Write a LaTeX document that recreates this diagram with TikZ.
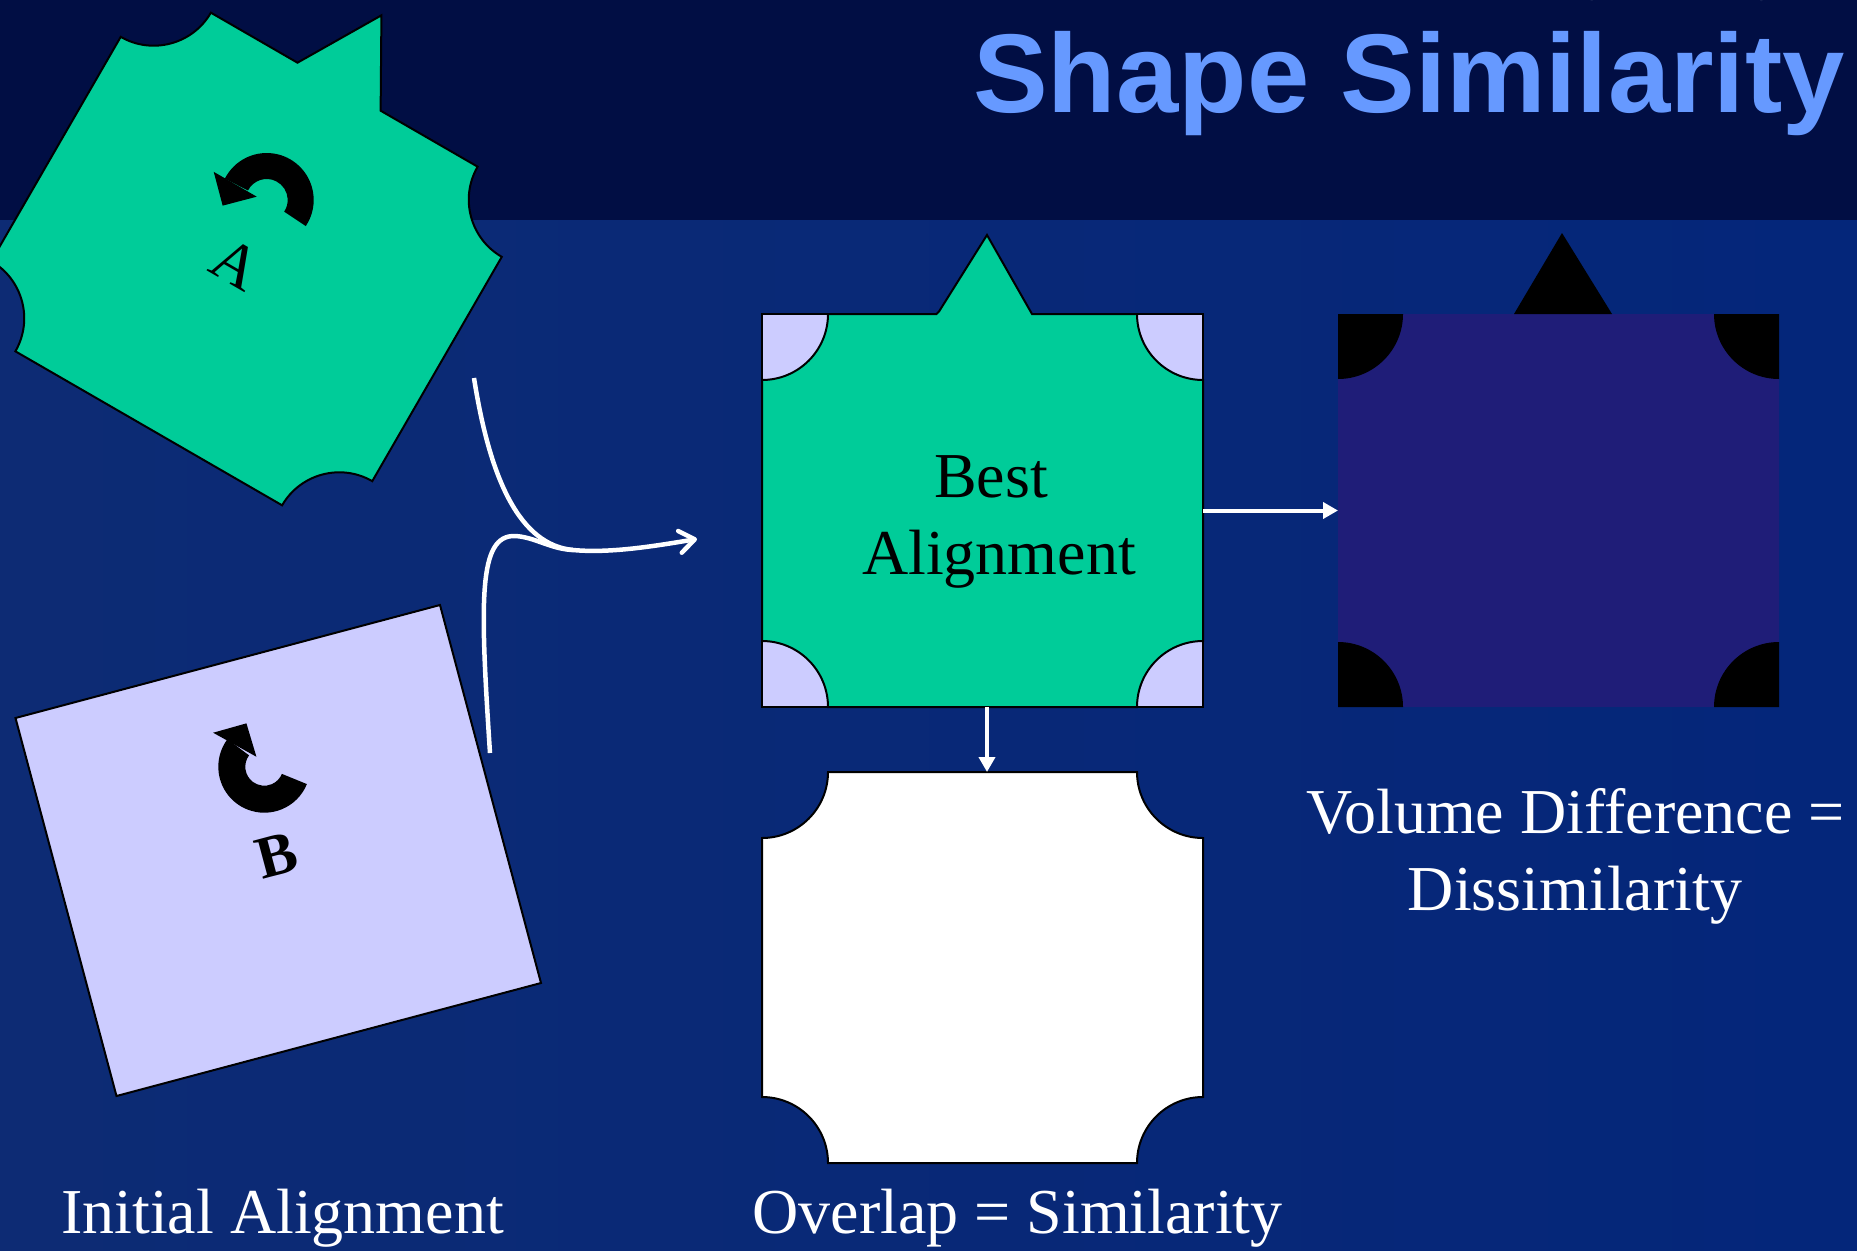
\documentclass[tikz,border=0pt]{standalone}
\usepackage{fontspec}
\setmainfont{Liberation Serif}
\newfontfamily\titlefont{Liberation Sans}
\usetikzlibrary{arrows.meta}
\definecolor{hdr}{HTML}{010E44}
\definecolor{bodyL}{HTML}{0D2B74}
\definecolor{bodyR}{HTML}{04267A}
\definecolor{agreen}{HTML}{00CC99}
\definecolor{blav}{HTML}{CCCCFF}
\definecolor{indig}{HTML}{1F1D78}
\definecolor{ttl}{HTML}{6699FF}
\tikzset{
  outl/.style={draw=black, line width=2pt, line join=miter},
  box/.style={minimum width=441pt, minimum height=393pt, inner sep=0pt, outer sep=0pt},
  serif64/.style={inner sep=0pt, font=\fontsize{64}{72}\selectfont},
  warrow/.style={draw=white, line width=4pt, -{Triangle[length=15pt,width=16pt]}},
  wcurve/.style={draw=white, line width=4.5pt},
  faint/.style={draw=white, draw opacity=0.07, line width=5pt}
}
\begin{document}
\begin{tikzpicture}[x=1pt,y=1pt]
\useasboundingbox (0,0) rectangle (1857,-1250);
\clip (0,0) rectangle (1857,-1250);
% background
\shade[left color=bodyL, right color=bodyR] (0,-220) rectangle (1857,-1250);
\fill[hdr] (0,0) rectangle (1857,-220);
% faint molecule in the header
\draw[faint] (1590,0) -- (1613,40) -- (1740,30) -- (1763,0);
\draw[faint] (1613,40) -- (1607,125);
\draw[faint] (1857,110) -- (1833,137) -- (1782,217) -- (1763,300);
\fill[white, fill opacity=0.05] (1607,125) circle (15) (1833,137) circle (24) (1782,217) circle (18);

% title
\node[anchor=base west, inner sep=0pt, text=ttl,
      font=\titlefont\bfseries\fontsize{112}{120}\selectfont] (title) at (973,-112) {Shape Similarity};

% ---------- initial shape B ----------
\filldraw[blav, outl] (15.5,-718) -- (440,-605) -- (541,-983) -- (116.5,-1096) -- cycle;
\coordinate (cB) at (264.3,-766.7);
\fill[black] ([shift={(-22.2:46)}]cB) arc[start angle=-22.2, end angle=-216.7, radius=46]
   -- ([shift={(-216.7:19)}]cB) arc[start angle=-216.7, end angle=-22.2, radius=19] -- cycle;
\fill[black] ([shift={(146.4:61.4)}]cB) -- ([shift={(112.4:46.9)}]cB) -- ([shift={(128.3:12.7)}]cB) -- cycle;
\node[rotate=15, inner sep=0pt, font=\bfseries\fontsize{60}{66}\selectfont] (labB) at (277,-855) {B};

% ---------- initial shape A ----------
\begin{scope}[shift={(246.5,-259)}, rotate=-30]
\filldraw[agreen, outl] (-154,195.5) -- (-54,195.5) -- (-5,278.5) -- (42,195.5) -- (154,195.5)
   arc[start angle=180, end angle=270, radius=66] -- (220,-129.5)
   arc[start angle=90, end angle=180, radius=66] -- (-154,-195.5)
   arc[start angle=0, end angle=90, radius=66] -- (-220,129.5)
   arc[start angle=270, end angle=360, radius=66] -- cycle;
\end{scope}
\coordinate (cA) at (266.7,-200);
\fill[black] ([shift={(-33.7:47)}]cA) arc[start angle=-33.7, end angle=153, radius=47]
   -- ([shift={(153:21)}]cA) arc[start angle=153, end angle=-33.7, radius=21] -- cycle;
\fill[black] ([shift={(152:60)}]cA) -- ([shift={(187.3:44.4)}]cA) -- ([shift={(161.6:10.5)}]cA) -- cycle;
\node[rotate=-30, inner sep=0pt, font=\fontsize{62}{66}\selectfont] (labA) at (236,-264) {A};

% ---------- best alignment ----------
\node[box] (best) at (982.5,-510.5) {};
\filldraw[blav, outl] (762,-314) rectangle (1203,-707);
\begin{scope}[shift={(982.5,-510.5)}]
\filldraw[agreen, outl] (-154.5,196.5) -- (-46,196.5) -- (-43.5,199) -- (4.5,275.5) -- (49.5,196.5) -- (154.5,196.5)
   arc[start angle=180, end angle=270, radius=66] -- (220.5,-130.5)
   arc[start angle=90, end angle=180, radius=66] -- (-154.5,-196.5)
   arc[start angle=0, end angle=90, radius=66] -- (-220.5,130.5)
   arc[start angle=270, end angle=360, radius=66] -- cycle;
\end{scope}
\node[serif64, anchor=base] (bestT1) at (991,-497) {Best};
\node[serif64, anchor=base] (bestT2) at (999,-574) {Alignment};

% ---------- overlap ----------
\node[box, minimum height=391pt] (ovl) at (982.5,-967.5) {};
\begin{scope}[shift={(982.5,-967.5)}]
\filldraw[white, outl] (-154.5,195.5) -- (154.5,195.5)
   arc[start angle=180, end angle=270, radius=66] -- (220.5,-129.5)
   arc[start angle=90, end angle=180, radius=66] -- (-154.5,-195.5)
   arc[start angle=0, end angle=90, radius=66] -- (-220.5,129.5)
   arc[start angle=270, end angle=360, radius=66] -- cycle;
\end{scope}

% ---------- dissimilarity ----------
\node[box] (diss) at (1558.5,-510.5) {};
\fill[indig] (1338,-314) rectangle (1779,-707);
\fill[black] (1338,-314) -- (1403,-314) arc[start angle=0, end angle=-90, radius=65] -- cycle;
\fill[black] (1779,-314) -- (1779,-379) arc[start angle=-90, end angle=-180, radius=65] -- cycle;
\fill[black] (1338,-707) -- (1338,-642) arc[start angle=90, end angle=0, radius=65] -- cycle;
\fill[black] (1779,-707) -- (1714,-707) arc[start angle=180, end angle=90, radius=65] -- cycle;
\fill[black] (1514,-314) -- (1562,-233) -- (1612,-314) -- cycle;

% ---------- connectors ----------
\draw[warrow] (best.east) -- (diss.west);
\draw[warrow] ([xshift=4.5pt]best.south) -- ([xshift=4.5pt]ovl.north);

\coordinate (fromA) at (474,-378);
\coordinate (fromB) at (490,-753);
\coordinate (join) at (573,-550);
\coordinate (toBest) at (697,-539);
\draw[wcurve] (fromB) .. controls (480,-600) and (478,-535) .. (515,-536)
   .. controls (535,-537) and (550,-549) .. (join);
\draw[wcurve, -{Straight Barb[length=15pt,width=22pt,round]}]
   (fromA) .. controls (490,-480) and (520,-545) .. (join)
   .. controls (610,-553.5) and (655,-546) .. (toBest);

% ---------- captions ----------
\node[serif64, anchor=base, text=white] (capInit) at (282.5,-1233) {Initial Alignment};
\node[serif64, anchor=base, text=white] (capOvl) at (1017.5,-1233) {Overlap = Similarity};
\node[serif64, anchor=base, text=white] (capVol1) at (1575.5,-833) {Volume Difference =};
\node[serif64, anchor=base, text=white] (capVol2) at (1575,-910) {Dissimilarity};
\end{tikzpicture}
\end{document}
